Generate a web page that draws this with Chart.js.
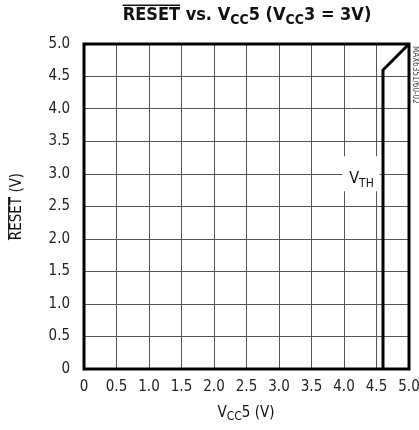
<!DOCTYPE html>
<html>
<head>
<meta charset="utf-8">
<script src="https://cdn.jsdelivr.net/npm/chart.js@4"></script>
<style>
  html, body { margin: 0; padding: 0; background: #fff; }
  #wrap { width: 419px; height: 430px; }
</style>
</head>
<body>
<div id="wrap"><canvas id="chart" width="419" height="430"></canvas></div>
<script>
// RESET vs. VCC5 (VCC3 = 3V)

const vcc5Points  = [4.6, 4.6, 5.0];
const resetPoints = [0.0, 4.6, 5.0];
const xTicks = [0, 0.5, 1.0, 1.5, 2.0, 2.5, 3.0, 3.5, 4.0, 4.5, 5.0];
const yTicks = [0, 0.5, 1.0, 1.5, 2.0, 2.5, 3.0, 3.5, 4.0, 4.5, 5.0];
const vthLabel = { x: 4.27, y: 2.95, text: 'V', sub: 'TH' };

const FONT = '"Liberation Sans Narrow", "DejaVu Sans Condensed", "Liberation Sans", sans-serif';

const fmt = v => v === 0 ? '0' : v.toFixed(1);

// draws text runs: [{t, sub, over}]
function drawRuns(ctx, runs, x, y, size, bold, align) {
  const weight = bold ? 'bold ' : '';
  const subSize = Math.round(size * 0.78);
  let total = 0;
  runs.forEach(r => {
    ctx.font = weight + (r.sub ? subSize : size) + 'px ' + FONT;
    r.w = ctx.measureText(r.t).width;
    total += r.w;
  });
  let cx = align === 'center' ? x - total / 2 : x;
  ctx.textAlign = 'left';
  ctx.textBaseline = 'alphabetic';
  runs.forEach(r => {
    ctx.font = weight + (r.sub ? subSize : size) + 'px ' + FONT;
    const dy = r.sub ? size * 0.22 : 0;
    ctx.fillText(r.t, cx, y + dy);
    if (r.over) {
      ctx.fillRect(cx, y - size * 0.86, r.w, bold ? 1.5 : 1);
    }
    cx += r.w;
  });
}

const decorPlugin = {
  id: 'decor',
  beforeDatasetsDraw(chart) {
    const { ctx, scales: { x, y } } = chart;
    // white box behind the VTH label
    const px = x.getPixelForValue(vthLabel.x);
    const py = y.getPixelForValue(vthLabel.y);
    ctx.save();
    ctx.fillStyle = '#fff';
    ctx.fillRect(px - 19, py - 21, 37, 35);
    ctx.restore();
  },
  afterDatasetsDraw(chart) {
    const { ctx, chartArea: a, scales: { x, y } } = chart;
    ctx.save();
    // frame
    ctx.strokeStyle = '#000';
    ctx.lineWidth = 3;
    ctx.strokeRect(a.left, a.top, a.right - a.left, a.bottom - a.top);

    ctx.fillStyle = '#111';
    // VTH
    const px = x.getPixelForValue(vthLabel.x);
    const py = y.getPixelForValue(vthLabel.y);
    drawRuns(ctx, [{ t: vthLabel.text }, { t: vthLabel.sub, sub: true }], px, py + 6, 16, false, 'center');

    // title
    drawRuns(ctx, [
      { t: 'RESET', over: true }, { t: ' vs. V' }, { t: 'CC', sub: true }, { t: '5 (V' },
      { t: 'CC', sub: true }, { t: '3 = 3V)' }
    ], 247, 20, 18, true, 'center');

    // x axis title
    drawRuns(ctx, [{ t: 'V' }, { t: 'CC', sub: true }, { t: '5 (V)' }], 246, 417, 15, false, 'center');

    // y axis title
    ctx.save();
    ctx.translate(21, (a.top + a.bottom) / 2);
    ctx.rotate(-Math.PI / 2);
    drawRuns(ctx, [{ t: 'RESET', over: true }, { t: ' (V)' }], 0, 0, 15, false, 'center');
    ctx.restore();

    // part number
    ctx.save();
    ctx.translate(415, 46);
    ctx.rotate(Math.PI / 2);
    ctx.font = '8px ' + FONT;
    ctx.fillStyle = '#444';
    ctx.textAlign = 'left';
    ctx.textBaseline = 'middle';
    ctx.fillText('MAX6351/60-02', 0, 0);
    ctx.restore();

    ctx.restore();
  }
};

new Chart(document.getElementById('chart'), {
  type: 'line',
  data: {
    datasets: [{
      data: vcc5Points.map((v, i) => ({ x: v, y: resetPoints[i] })),
      borderColor: '#000',
      borderWidth: 3,
      pointRadius: 0,
      tension: 0,
      fill: false,
    }]
  },
  options: {
    responsive: false,
    animation: false,
    layout: { padding: { top: 44, right: 10, left: 0, bottom: 0 } },
    plugins: {
      legend: { display: false },
      tooltip: { enabled: false },
    },
    scales: {
      x: {
        type: 'linear',
        min: 0, max: 5,
        afterBuildTicks: s => { s.ticks = xTicks.map(v => ({ value: v })); },
        afterFit: s => { s.height = 61; s.paddingLeft = 0; s.paddingRight = 0; },
        grid: { color: '#555', lineWidth: 1, drawTicks: false },
        border: { display: false },
        ticks: {
          color: '#222',
          padding: 9,
          maxRotation: 0,
          font: { family: FONT, size: 15 },
          callback: fmt,
        },
      },
      y: {
        type: 'linear',
        min: 0, max: 5,
        afterBuildTicks: s => { s.ticks = yTicks.map(v => ({ value: v })); },
        afterFit: s => { s.width = 84; s.paddingTop = 0; s.paddingBottom = 0; },
        grid: { color: '#555', lineWidth: 1, drawTicks: false },
        border: { display: false },
        ticks: {
          color: '#222',
          padding: 14,
          font: { family: FONT, size: 15 },
          callback: fmt,
        },
      }
    }
  },
  plugins: [decorPlugin]
});
</script>
</body>
</html>
